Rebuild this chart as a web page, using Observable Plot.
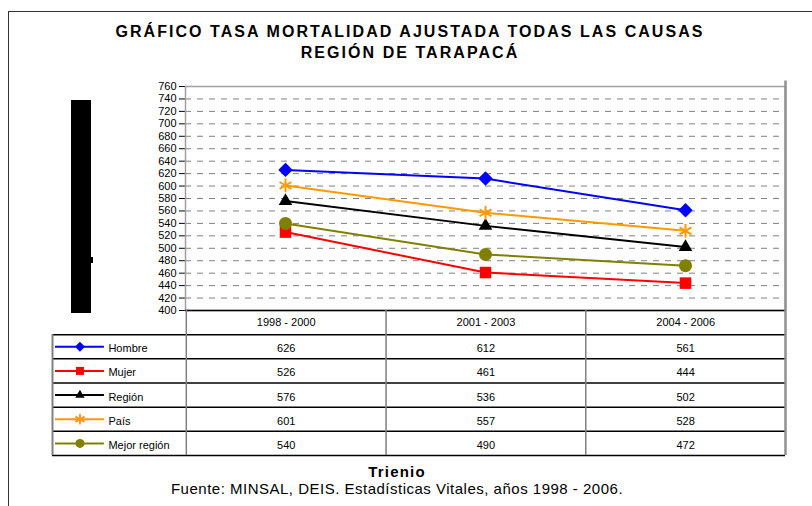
<!DOCTYPE html>
<html>
<head>
<meta charset="utf-8">
<script src="https://cdn.jsdelivr.net/npm/d3@7"></script>
<script src="https://cdn.jsdelivr.net/npm/@observablehq/plot@0.6"></script>
<style>
  html, body { margin: 0; padding: 0; background: #fff; }
  #root { position: relative; width: 812px; height: 506px; overflow: hidden; background: #fff; font-family: "Liberation Sans", Arial, sans-serif; }
  .abs { position: absolute; }
  .title { left: 0; width: 820px; text-align: center; font-weight: bold; font-size: 16px; line-height: 16px; letter-spacing: 2.05px; color: #000; }
  .xlabel { left: 0; width: 794px; text-align: center; font-weight: bold; font-size: 15px; line-height: 15px; letter-spacing: 1.2px; }
  .source { left: 0; width: 794px; text-align: center; font-size: 15px; line-height: 15px; letter-spacing: 0.5px; }
</style>
</head>
<body>
<div id="root">
  <div class="abs" style="left:8px;top:11px;width:804px;height:0;border-top:1.5px solid #333;"></div>
  <div class="abs" style="left:8px;top:11px;width:0;height:500px;border-left:1.5px solid #333;"></div>
  <div class="abs title" style="top:24px;">GRÁFICO TASA MORTALIDAD AJUSTADA TODAS LAS CAUSAS</div>
  <div class="abs title" style="top:45px;">REGIÓN DE TARAPACÁ</div>
  <div class="abs" style="left:71px;top:100px;width:20px;height:213px;background:#000;"></div>
  <div class="abs" style="left:90px;top:257px;width:3px;height:6px;background:#000;"></div>
  <div id="chart" class="abs" style="left:0;top:0;"></div>
  <div id="table" class="abs" style="left:0;top:310px;"></div>
  <div class="abs xlabel" style="top:464px;">Trienio</div>
  <div class="abs source" style="top:481px;">Fuente: MINSAL, DEIS. Estadísticas Vitales, años 1998 - 2006.</div>
</div>
<script>
// ---- data ----
const trienios = ["1998 - 2000", "2001 - 2003", "2004 - 2006"];
const seriesNames = ["Hombre", "Mujer", "Región", "País", "Mejor región"];
const hombre = [626, 612, 561];
const mujer = [526, 461, 444];
const region = [576, 536, 502];
const pais = [601, 557, 528];
const mejorRegion = [540, 490, 472];
const yTicks = [400, 420, 440, 460, 480, 500, 520, 540, 560, 580, 600, 620, 640, 660, 680, 700, 720, 740, 760];

// ---- styles ----
const colors = ["#0000ff", "#ff0000", "#000000", "#ff9900", "#808000"];
const symbols = ["diamond2", "square", "triangle2", "asterisk", "circle"];
const font = "'Liberation Sans', Arial, sans-serif";

const valuesList = [hombre, mujer, region, pais, mejorRegion];
const data = seriesNames.flatMap((s, i) =>
  valuesList[i].map((v, j) => ({series: s, si: i, trienio: trienios[j], ti: j, value: v}))
);

const chart = Plot.plot({
  width: 812,
  height: 312,
  marginLeft: 185,
  marginRight: 27,
  marginTop: 86,
  marginBottom: 2,
  style: {fontFamily: font, fontSize: "11px", color: "#000", background: "transparent", overflow: "visible"},
  x: {type: "point", domain: trienios, padding: 0.5, axis: null},
  y: {domain: [400, 760], ticks: yTicks, tickSize: 6, tickPadding: 3, label: null, tickFormat: d => String(d)},
  color: {domain: seriesNames, range: colors},
  symbol: {domain: seriesNames, range: symbols},
  marks: [
    Plot.ruleY(yTicks.slice(1, -1), {stroke: "#808080", strokeOpacity: 1, strokeWidth: 1, strokeDasharray: "6,6"}),
    Plot.frame({stroke: "#a0a0a0", strokeWidth: 1.5}),
    Plot.ruleY([400], {stroke: "#000", strokeWidth: 1.5}),
    Plot.line(data, {x: "trienio", y: "value", z: "series", stroke: "series", strokeWidth: 2}),
    Plot.dot(data.filter(d => d.series !== "País"), {x: "trienio", y: "value", symbol: "series", fill: "series", stroke: "none", r: 6.5}),
    Plot.dot(data.filter(d => d.series === "País"), {x: "trienio", y: "value", symbol: "series", stroke: "series", fill: "none", strokeWidth: 2, r: 6.5})
  ]
});
document.getElementById("chart").appendChild(chart);

// ---- table below the chart ----
const legendStart = -0.67;
const cells = data.map(d => ({...d, cx: d.ti + 0.5, cy: d.si + 1.5}));
const legendRows = seriesNames.map((s, i) => ({series: s, cy: i + 1.5}));
const headers = trienios.map((t, i) => ({t, cx: i + 0.5}));

const table = Plot.plot({
  width: 812,
  height: 150,
  marginLeft: 52,
  marginRight: 27,
  marginTop: 0,
  marginBottom: 5,
  style: {fontFamily: font, fontSize: "11px", color: "#000", background: "transparent", overflow: "visible"},
  x: {domain: [legendStart, 3], axis: null},
  y: {domain: [0, 6], reverse: true, axis: null},
  color: {domain: seriesNames, range: colors},
  symbol: {domain: seriesNames, range: symbols},
  marks: [
    Plot.ruleY([1, 2, 3, 4, 5, 6], {x1: legendStart, x2: 3, stroke: "#000", strokeWidth: 1.5}),
    Plot.ruleX([legendStart], {y1: 1, y2: 6, stroke: "#808080", strokeWidth: 2}),
    Plot.ruleX([0, 1, 2], {y1: 0, y2: 6, stroke: "#808080", strokeWidth: 1.5}),
    Plot.ruleX([3], {y1: -9.5, y2: 6, stroke: "#909090", strokeWidth: 2.5}),
    Plot.text(headers, {x: "cx", y: 0.5, text: "t", fontSize: 11}),
    Plot.text(cells, {x: "cx", y: "cy", text: d => String(d.value), fontSize: 11, dy: 2}),
    Plot.ruleY(legendRows, {y: "cy", x1: -0.655, x2: -0.41, stroke: "series", strokeWidth: 2}),
    Plot.dot(legendRows.filter(d => d.series !== "País"), {x: -0.5325, y: "cy", symbol: "series", fill: "series", stroke: "none", r: 4.5}),
    Plot.dot(legendRows.filter(d => d.series === "País"), {x: -0.5325, y: "cy", symbol: "series", stroke: "series", fill: "none", strokeWidth: 1.8, r: 5}),
    Plot.text(legendRows, {x: -0.39, y: "cy", text: "series", textAnchor: "start", fontSize: 11, dy: 2})
  ]
});
document.getElementById("table").appendChild(table);
</script>
</body>
</html>
